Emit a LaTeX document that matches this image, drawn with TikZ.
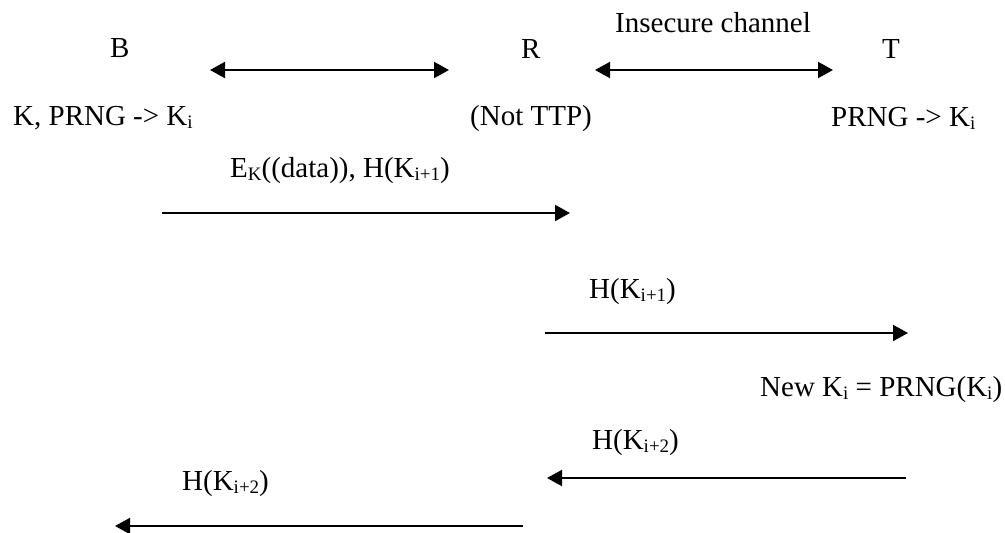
\documentclass[tikz,border=0pt]{standalone}
\usepackage{fontspec}
\setmainfont{Liberation Serif}
\usetikzlibrary{arrows.meta}
% small lowered index, as in K_i
\newcommand{\lowidx}[1]{\raisebox{-3.5pt}{\fontsize{19}{19}\selectfont #1}}
\begin{document}
\begin{tikzpicture}[x=1pt,y=-1pt,
  lbl/.style={anchor=base west, inner sep=0pt, font=\fontsize{29}{34}\selectfont},
  msg/.style={line width=2pt, -{Triangle[length=15pt,width=16pt]}},
  link/.style={line width=2pt, {Triangle[length=15pt,width=16pt]}-{Triangle[length=15pt,width=16pt]}}]
\useasboundingbox (0,0) rectangle (1005,533);

% parties
\node[lbl] (chan) at (615,32) {Insecure channel};
\node[lbl] (b) at (110,57) {B};
\node[lbl] (r) at (521,58) {R};
\node[lbl] (t) at (882,58) {T};

% links between the parties
\coordinate (l1a) at (210,70);
\coordinate (l1b) at (449,70);
\coordinate (l2a) at (595,70);
\coordinate (l2b) at (833,70);
\draw[link] (l1a) -- (l1b);
\draw[link] (l2a) -- (l2b);

% initial state
\node[lbl] (bstate) at (13,125) {K, PRNG -> K\lowidx{i}};
\node[lbl] (rstate) at (470,125) {(Not TTP)};
\node[lbl] (tstate) at (831,126) {PRNG -> K\lowidx{i}};

% message 1: B -> R
\node[lbl] (m1) at (230,177) {E\lowidx{K}((data)), H(K\lowidx{i+1})};
\coordinate (m1a) at (162,213);
\coordinate (m1b) at (570,213);
\draw[msg] (m1a) -- (m1b);

% message 2: R -> T
\node[lbl] (m2) at (589,298) {H(K\lowidx{i+1})};
\coordinate (m2a) at (545,333);
\coordinate (m2b) at (908,333);
\draw[msg] (m2a) -- (m2b);

% key update at T
\node[lbl] (upd) at (760,396) {New K\lowidx{i} = PRNG(K\lowidx{i})};

% message 3: T -> R
\node[lbl] (m3) at (592,449) {H(K\lowidx{i+2})};
\coordinate (m3a) at (906,478);
\coordinate (m3b) at (547,478);
\draw[msg] (m3a) -- (m3b);

% message 4: R -> B
\node[lbl] (m4) at (182,490) {H(K\lowidx{i+2})};
\coordinate (m4a) at (523,526);
\coordinate (m4b) at (115,526);
\draw[msg] (m4a) -- (m4b);
\end{tikzpicture}
\end{document}
